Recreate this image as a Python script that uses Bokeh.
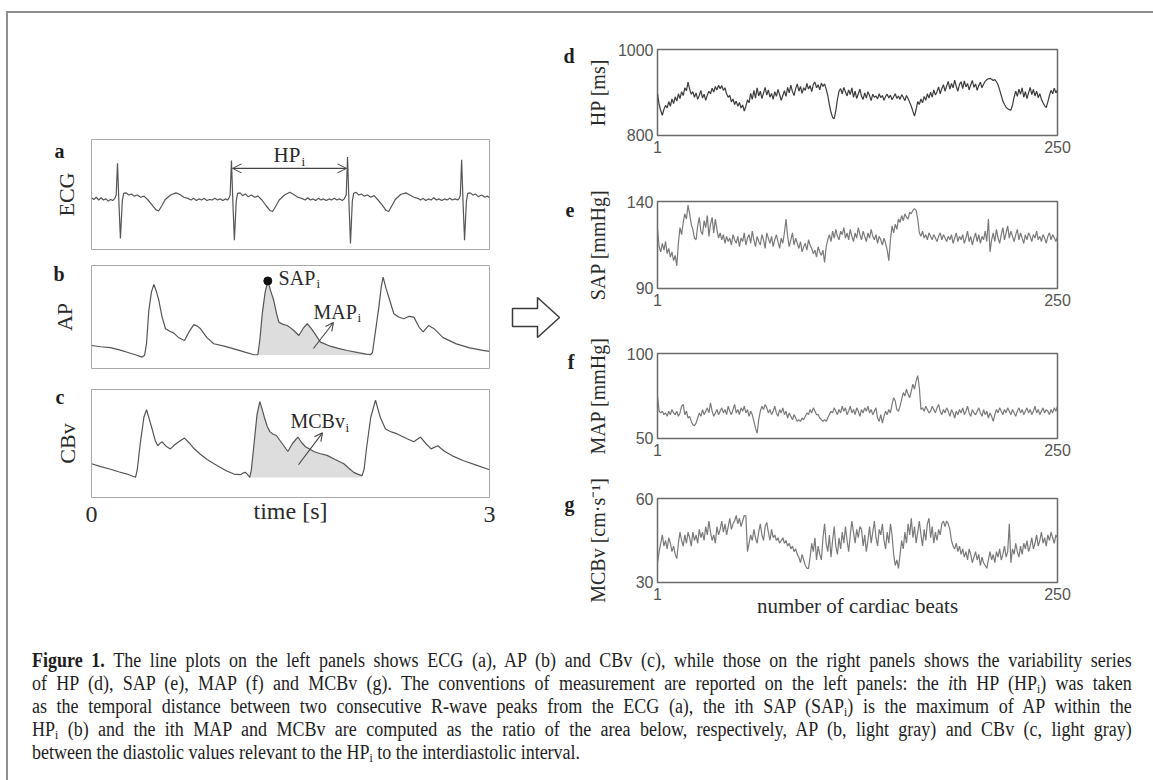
import numpy as np
from math import pi
from bokeh.plotting import figure
from bokeh.models import Range1d, Label, Arrow, OpenHead, FixedTicker, Div, Spacer, LinearAxis
from bokeh.layouts import column, row
from bokeh.embed import file_html
from bokeh.resources import INLINE

SERIF = "Liberation Serif"
SANS = "Liberation Sans"
TXT = "#2a2a2a"

# ---------------- left panels: raw signals (time [s], value) ----------------
ECG = [(0.000, 0.01), (0.018, -0.02), (0.036, 0.02), (0.054, -0.03), (0.072, 0.01), (0.090, -0.03),
       (0.108, -0.01), (0.126, -0.05), (0.144, -0.02), (0.160, -0.04), (0.176, 0.00), (0.186, 0.06),
       (0.196, 0.64), (0.207, -0.10), (0.218, -0.73), (0.232, -0.05), (0.242, 0.09), (0.261, 0.10),
       (0.281, 0.06), (0.301, 0.08), (0.321, 0.04), (0.346, 0.06), (0.371, 0.02), (0.396, 0.04),
       (0.426, -0.03), (0.456, -0.12), (0.486, -0.21), (0.506, -0.23), (0.531, -0.13), (0.556, -0.02),
       (0.596, 0.06), (0.636, 0.10), (0.666, 0.07), (0.696, 0.02), (0.726, 0.00),
       (0.750, -0.03), (0.770, 0.00), (0.790, -0.04), (0.810, -0.01), (0.830, -0.03), (0.850, 0.00),
       (0.870, -0.04), (0.890, -0.02), (0.910, -0.03), (0.930, 0.00), (0.950, -0.03), (0.970, -0.01),
       (0.990, -0.04), (1.010, -0.01), (1.025, -0.03), (1.035, 0.00), (1.045, 0.06),
       (1.055, 0.69), (1.066, -0.10), (1.077, -0.76), (1.091, -0.05), (1.101, 0.09), (1.120, 0.10),
       (1.140, 0.05), (1.160, 0.08), (1.180, 0.03), (1.205, 0.06), (1.230, 0.02), (1.255, 0.04),
       (1.285, -0.03), (1.315, -0.13), (1.345, -0.22), (1.365, -0.24), (1.390, -0.14), (1.415, -0.03),
       (1.455, 0.06), (1.495, 0.11), (1.525, 0.07), (1.555, 0.02), (1.585, 0.00),
       (1.610, -0.03), (1.630, 0.01), (1.650, -0.03), (1.670, -0.01), (1.690, -0.04), (1.710, 0.00),
       (1.730, -0.03), (1.750, -0.01), (1.770, -0.04), (1.790, -0.01), (1.810, -0.03), (1.830, 0.00),
       (1.850, -0.03), (1.870, -0.01), (1.890, -0.04), (1.905, -0.01), (1.920, 0.06),
       (1.930, 0.75), (1.941, -0.10), (1.952, -0.82), (1.966, -0.05), (1.976, 0.09), (1.995, 0.11),
       (2.015, 0.06), (2.035, 0.08), (2.055, 0.04), (2.080, 0.06), (2.105, 0.02), (2.130, 0.05),
       (2.160, -0.03), (2.190, -0.12), (2.220, -0.22), (2.240, -0.24), (2.265, -0.13), (2.290, -0.02),
       (2.330, 0.07), (2.370, 0.10), (2.400, 0.06), (2.430, 0.02), (2.460, 0.00),
       (2.480, -0.03), (2.500, 0.00), (2.520, -0.04), (2.540, -0.01), (2.560, -0.03), (2.580, 0.01),
       (2.600, -0.03), (2.620, -0.01), (2.640, -0.04), (2.660, -0.01), (2.680, -0.03), (2.700, 0.00),
       (2.720, -0.03), (2.740, -0.01), (2.760, -0.03), (2.772, 0.00), (2.780, 0.06),
       (2.790, 0.70), (2.801, -0.10), (2.812, -0.76), (2.826, -0.05), (2.836, 0.09), (2.855, 0.10),
       (2.875, 0.06), (2.895, 0.08), (2.915, 0.03), (2.940, 0.06), (2.965, 0.02), (2.985, 0.04),
       (3.000, 0.01)]

AP = [(0.000, 70.1), (0.070, 69.0), (0.143, 68.3), (0.210, 66.3), (0.269, 64.2), (0.330, 62.0),
      (0.382, 60.0), (0.400, 61.5), (0.415, 72.0), (0.432, 100.7), (0.452, 117.0), (0.470, 123.5),
      (0.490, 117.0), (0.508, 109.4), (0.530, 96.0), (0.558, 84.7), (0.590, 82.5), (0.621, 80.9),
      (0.658, 76.8), (0.701, 74.5), (0.735, 82.0), (0.771, 88.4), (0.800, 86.8), (0.822, 84.7),
      (0.870, 77.0), (0.922, 71.6), (1.000, 69.5), (1.073, 67.2), (1.150, 64.5), (1.224, 62.0),
      (1.254, 62.0), (1.270, 76.0), (1.287, 97.8), (1.308, 116.0), (1.329, 126.5), (1.350, 118.0),
      (1.374, 109.4), (1.395, 98.0), (1.412, 90.5), (1.445, 88.5), (1.475, 87.6), (1.500, 85.5),
      (1.525, 83.2), (1.563, 78.8), (1.595, 85.0), (1.626, 89.1), (1.650, 86.0), (1.676, 81.8),
      (1.726, 73.0), (1.800, 69.5), (1.860, 67.6), (1.927, 65.7), (2.010, 63.8), (2.070, 62.6),
      (2.103, 62.2), (2.118, 64.0), (2.135, 78.0), (2.166, 103.6), (2.185, 122.0), (2.198, 129.8),
      (2.220, 120.0), (2.241, 112.3), (2.279, 97.8), (2.315, 95.0), (2.354, 93.5), (2.390, 95.5),
      (2.430, 94.9), (2.470, 86.0), (2.500, 82.0), (2.540, 87.5), (2.580, 85.0), (2.650, 77.0),
      (2.750, 71.5), (2.850, 68.0), (2.950, 65.8), (3.000, 65.0)]

CBV = [(0.000, 41.9), (0.070, 40.0), (0.143, 38.3), (0.210, 36.5), (0.269, 35.2), (0.310, 33.8),
       (0.332, 33.1), (0.345, 38.0), (0.369, 56.1), (0.395, 72.0), (0.415, 76.9), (0.435, 71.0),
       (0.457, 64.4), (0.480, 57.0), (0.500, 53.5), (0.517, 55.2), (0.533, 56.1), (0.565, 53.0),
       (0.595, 51.5), (0.625, 54.0), (0.658, 56.1), (0.701, 58.5), (0.735, 55.5), (0.771, 51.9),
       (0.820, 48.0), (0.872, 44.6), (0.920, 42.0), (0.972, 39.4), (1.020, 37.2), (1.073, 35.2),
       (1.123, 34.8), (1.145, 36.0), (1.161, 36.3), (1.180, 34.5), (1.193, 33.1), (1.205, 38.0),
       (1.224, 53.9), (1.248, 74.0), (1.269, 82.1), (1.287, 77.0), (1.304, 71.7), (1.325, 66.0),
       (1.344, 62.7), (1.370, 61.0), (1.394, 60.2), (1.437, 55.0), (1.480, 49.8), (1.515, 55.0),
       (1.555, 59.2), (1.585, 55.5), (1.613, 52.9), (1.676, 49.8), (1.720, 48.5), (1.776, 47.3),
       (1.840, 44.5), (1.902, 41.9), (1.940, 39.0), (1.977, 36.3), (2.010, 35.0), (2.040, 34.2),
       (2.055, 38.5), (2.073, 51.9), (2.105, 72.0), (2.141, 83.1), (2.160, 77.0), (2.178, 71.7),
       (2.216, 64.4), (2.260, 62.5), (2.304, 61.2), (2.379, 58.1), (2.429, 56.1), (2.480, 59.2),
       (2.520, 55.0), (2.560, 51.5), (2.610, 53.5), (2.660, 50.0), (2.720, 47.0), (2.800, 44.0),
       (2.900, 41.0), (3.000, 38.0)]

R_PEAKS = [1.055, 1.930]          # consecutive R waves delimiting HP_i
AP_DIASTOLE = [1.254, 2.103]      # diastolic feet of AP within HP_i
CBV_DIASTOLE = [1.193, 2.040]     # diastolic feet of CBv within HP_i
TIME_TICKS = [0, 3]

# ---------------- right panels: beat-to-beat series (250 beats) ----------------
HP = [897, 872, 858, 847, 861, 870, 864, 879, 868, 885,
      874, 890, 880, 897, 886, 902, 893, 911, 904, 924,
      908, 896, 902, 889, 899, 884, 893, 905, 887, 896,
      882, 894, 903, 897, 910, 901, 914, 906, 917, 909,
      916, 905, 911, 897, 889, 893, 878, 885, 872, 880,
      868, 877, 864, 871, 857, 868, 883, 876, 898, 884,
      905, 887, 911, 892, 903, 886, 899, 912, 894, 906,
      889, 898, 884, 902, 891, 907, 895, 882, 893, 904,
      891, 912, 899, 917, 902, 893, 909, 920, 903, 914,
      898, 911, 905, 921, 908, 916, 902, 919, 924, 911,
      918, 906, 922, 914, 920, 908, 893, 872, 854, 842,
      839, 858, 884, 903, 909, 897, 912, 901, 892, 906,
      895, 911, 889, 903, 886, 897, 908, 891, 884, 899,
      887, 902, 893, 881, 896, 889, 892, 885, 897, 888,
      893, 882, 891, 896, 887, 894, 883, 890, 897, 886,
      892, 884, 895, 889, 881, 893, 886, 877, 868, 856,
      845, 861, 879, 872, 885, 876, 891, 882, 897, 887,
      901, 889, 906, 894, 902, 913, 897, 909, 918, 903,
      915, 926, 908, 921, 911, 929, 914, 903, 919, 925,
      909, 927, 913, 921, 906, 918, 928, 912, 920, 905,
      916, 924, 911, 919, 926, 930, 932, 933, 931, 928,
      930, 925, 918, 906, 893, 880, 872, 866, 862, 860,
      859, 871, 889, 903, 891, 908, 896, 911, 889, 902,
      886, 899, 912, 895, 907, 892, 903, 888, 897, 884,
      876, 869, 865, 878, 893, 905, 897, 910, 899, 906]

SAP = [124, 114, 111, 116, 112, 117, 110, 113, 108, 111,
       106, 109, 103, 116, 125, 121, 128, 133, 130, 138,
       133, 127, 124, 119, 118, 126, 131, 123, 121, 129,
       125, 132, 120, 127, 131, 122, 130, 124, 119, 122,
       118, 121, 116, 120, 117, 119, 115, 121, 118, 116,
       120, 114, 119, 117, 122, 115, 119, 121, 116, 123,
       118, 114, 120, 117, 115, 121, 118, 113, 122, 119,
       116, 120, 114, 118, 121, 117, 113, 119, 116, 122,
       130, 120, 114, 118, 122, 115, 119, 116, 113, 117,
       111, 114, 116, 112, 118, 115, 113, 110, 112, 108,
       114, 111, 109, 112, 105, 114, 118, 121, 117, 123,
       119, 124, 120, 118, 123, 121, 125, 119, 122, 118,
       124, 120, 117, 122, 119, 125, 121, 118, 123, 120,
       117, 122, 119, 124, 120, 118, 121, 116, 120, 118,
       115, 119, 116, 112, 106, 118, 126, 122, 127, 124,
       130, 128, 132, 129, 133, 131, 130, 134, 133, 135,
       136, 135, 130, 122, 120, 123, 119, 121, 118, 122,
       120, 118, 121, 119, 117, 120, 122, 118, 121, 119,
       117, 120, 118, 121, 116, 119, 122, 117, 120, 118,
       121, 116, 119, 123, 117, 120, 115, 119, 122, 117,
       121, 116, 120, 118, 123, 117, 130, 111, 118, 122,
       117, 124, 119, 116, 121, 125, 118, 122, 126, 119,
       123, 120, 117, 121, 124, 118, 122, 119, 116, 121,
       118, 122, 120, 117, 121, 119, 123, 118, 120, 117,
       121, 119, 116, 120, 122, 118, 121, 119, 117, 120]

MAP = [75, 66, 65, 66, 64, 65, 63, 66, 64, 67,
       65, 64, 66, 63, 65, 69, 70, 64, 66, 62,
       63, 60, 58, 57.5, 59, 62, 65, 63, 67, 64,
       66, 68, 65, 71, 66, 63, 65, 67, 64, 66,
       68, 65, 67, 64, 69, 66, 64, 67, 70, 65,
       67, 64, 68, 66, 69, 65, 67, 63, 66, 64,
       60, 56, 53, 61, 66, 69, 67, 70, 68, 65,
       67, 64, 66, 69, 65, 63, 67, 65, 68, 64,
       66, 62, 65, 63, 61, 64, 62, 60, 61, 60,
       62, 61, 63, 65, 64, 67, 65, 68, 66, 64,
       64, 62, 61, 60, 61, 60, 62, 64, 66, 65,
       68, 66, 64, 67, 65, 69, 66, 68, 64, 66,
       69, 65, 67, 64, 68, 66, 63, 67, 65, 68,
       66, 69, 65, 67, 64, 66, 68, 62, 60, 64,
       59, 63, 66, 64, 67, 65, 70, 74, 72, 67,
       66, 69, 73, 77, 75, 79, 76, 74, 78, 82,
       79, 84, 87, 80, 67, 68, 66, 69, 67, 65,
       66, 69, 67, 65, 68, 70, 66, 64, 67, 65,
       68, 66, 63, 67, 65, 62, 66, 64, 67, 65,
       68, 64, 66, 69, 65, 63, 67, 65, 64, 66,
       68, 65, 63, 67, 64, 66, 62, 65, 63, 60,
       64, 67, 65, 68, 66, 64, 67, 65, 68, 66,
       64, 67, 65, 63, 66, 68, 65, 67, 64, 66,
       68, 65, 67, 64, 66, 69, 65, 67, 64, 66,
       68, 65, 67, 66, 64, 67, 65, 68, 66, 69]

MCBV = [37, 41, 44, 47, 43, 45, 42, 46, 44, 41,
        43, 40, 38.5, 44, 48, 45, 43, 47, 44, 48,
        46, 43, 48, 45, 47, 44, 49, 46, 48, 45,
        50, 47, 52, 48, 45, 47, 44, 50, 47, 49,
        52, 48, 51, 47, 50, 53, 49, 51, 52, 54,
        51, 53, 50, 52, 54, 53.9, 41, 44, 47, 45,
        49, 46, 44, 48, 51, 47, 45, 50, 51.5, 48,
        45, 49, 46, 47, 45, 46, 44, 45, 46, 44,
        45, 43, 44, 42, 43, 41, 42, 40, 39, 37,
        40, 38, 36, 35, 35, 39, 44, 41, 46, 38,
        43, 40, 38, 46, 51, 44, 41, 47, 39, 45,
        50, 43, 40, 46, 42, 48, 44, 50, 45, 41,
        47, 52, 48, 44, 49, 46, 50, 49, 43, 47,
        41, 45, 50, 44, 48, 52, 46, 43, 49, 47,
        51, 45, 42, 48, 44, 51, 47, 40, 36, 38,
        35, 40, 45, 42, 48, 44, 51, 47, 53, 46,
        50, 44, 48, 52, 47, 43, 49, 45, 51, 53,
        46, 50, 44, 48, 45, 49, 47, 51, 52, 50,
        52, 51, 49, 45, 43, 42, 44, 41, 43, 40,
        42, 39, 41, 38, 42, 40, 37, 39, 41, 38,
        40, 36, 39, 37, 36, 35, 38, 41, 38, 40,
        37, 41, 39, 42, 38, 40, 43, 39, 41, 51,
        37, 42, 40, 44, 41, 39, 43, 40, 44, 42,
        45, 41, 43, 46, 42, 44, 47, 43, 45, 48,
        44, 46, 43, 47, 45, 48, 46, 44, 47, 46]

# (panel letter, letter tick value, y label, values, y limits, line colour)
RIGHT_PANELS = [
    ("d", 986, "HP [ms]", HP, (800, 1000), "#3c3c3c"),
    ("e", 135, "SAP [mmHg]", SAP, (90, 140), "#7a7a7a"),
    ("f", 95, "MAP [mmHg]", MAP, (50, 100), "#7a7a7a"),
    ("g", 58, "MCBv [cm\u00b7s\u207b\u00b9]", MCBV, (30, 60), "#7a7a7a"),
]
BEAT_TICKS = [1, 250]

# hollow arrow between the two halves (page pixels of its own small canvas)
ARROW_X = [512, 537, 537, 559, 537, 537, 512, 512]
ARROW_Y = [308, 308, 297, 317, 337, 326, 326, 308]

CAPTION_LINES = [
    "<b>Figure 1.</b> The line plots on the left panels shows ECG (a), AP (b) and CBv (c), while those on the right panels shows the variability series",
    "of HP (d), SAP (e), MAP (f) and MCBv (g). The conventions of measurement are reported on the left panels: the <i>i</i>th HP (HP<sub>i</sub>) was taken",
    "as the temporal distance between two consecutive R-wave peaks from the ECG (a), the ith SAP (SAP<sub>i</sub>) is the maximum of AP within the",
    "HP<sub>i</sub> (b) and the ith MAP and MCBv are computed as the ratio of the area below, respectively, AP (b, light gray) and CBv (c, light gray)",
    "between the diastolic values relevant to the HP<sub>i</sub> to the interdiastolic interval.",
]


# ---------------- helpers ----------------
def base_fig(w, h, xr, yr, left, right, top, bottom, xaxis=False):
    p = figure(width=w, height=h, x_range=xr, y_range=yr, output_backend="svg",
               toolbar_location=None,
               min_border_left=left, min_border_right=right,
               min_border_top=top, min_border_bottom=bottom,
               x_axis_location="below" if xaxis else None,
               y_axis_location="left")
    p.grid.visible = False
    p.background_fill_color = "white"
    p.border_fill_color = "white"
    return p


def plain_axis(ax):
    ax.axis_line_color = None
    ax.major_tick_line_color = None
    ax.minor_tick_line_color = None
    ax.major_tick_out = 0
    ax.major_tick_in = 0
    ax.minor_tick_out = 0
    ax.minor_tick_in = 0
    ax.axis_label_text_font_style = "normal"


def letter_axis(ax, value, letter, standoff):
    plain_axis(ax)
    ax.ticker = FixedTicker(ticks=[value])
    ax.major_label_overrides = {value: letter}
    ax.major_label_text_font = SERIF
    ax.major_label_text_font_style = "bold"
    ax.major_label_text_font_size = "20px"
    ax.major_label_text_color = "#1e1e1e"
    ax.major_label_standoff = standoff


def lab(p, text, x, y, size, align="left", xo=0, yo=0):
    p.add_layout(Label(x=x, y=y, text=text, text_font=SERIF, text_font_size=f"{size}px",
                       text_align=align, text_baseline="middle", text_color=TXT,
                       x_offset=xo, y_offset=yo))


def sub_lab(p, text, x, y, width_px, size=20):
    lab(p, text, x, y, size)
    lab(p, "i", x, y, int(size * 0.65), xo=width_px + 1, yo=-6)


def split(pairs):
    return [a for a, _ in pairs], [b for _, b in pairs]


ecg_t, ecg_v = split(ECG)
ap_t, ap_v = split(AP)
cbv_t, cbv_v = split(CBV)

LEFT_W = 488
SIG = "#555555"
FRAME_L = "#a9a9a9"


def left_panel(h, top, bottom, yr, letter, letter_val, ylabel, xaxis=False):
    p = base_fig(LEFT_W, h, Range1d(0, 3), Range1d(*yr), 83, 7, top, bottom, xaxis=xaxis)
    p.outline_line_color = FRAME_L
    ax = p.yaxis[0]
    letter_axis(ax, letter_val, letter, 27)
    ax.axis_label = ylabel
    ax.axis_label_text_font = SERIF
    ax.axis_label_text_font_size = "22px"
    ax.axis_label_text_color = TXT
    ax.axis_label_standoff = -27
    return p


# panel a : ECG
pa = left_panel(132, 14, 8, (-0.93, 1.07), "a", 0.87, "ECG")
pa.line(ecg_t, ecg_v, line_color=SIG, line_width=1.2)
pa.add_layout(Arrow(start=OpenHead(size=9, line_color="#444", line_width=1.1),
                    end=OpenHead(size=9, line_color="#444", line_width=1.1),
                    x_start=R_PEAKS[0] + 0.008, x_end=R_PEAKS[1] - 0.008,
                    y_start=0.545, y_end=0.545, line_color="#444", line_width=1.1))
sub_lab(pa, "HP", 1.372, 0.78, 27, size=21)

# panel b : AP
pb = left_panel(120, 8, 9, (50, 140), "b", 133, "AP")
sh_t = [t for t in ap_t if AP_DIASTOLE[0] <= t <= AP_DIASTOLE[1]]
sh_v = [v for t, v in AP if AP_DIASTOLE[0] <= t <= AP_DIASTOLE[1]]
pb.varea(x=sh_t, y1=min(sh_v[0], sh_v[-1]) - 0.2, y2=sh_v, fill_color="#dddddd")
pb.line(ap_t, ap_v, line_color=SIG, line_width=1.2)
hp_seg = [(t, v) for t, v in AP if R_PEAKS[0] <= t <= R_PEAKS[1]]
sap_t, sap_v = max(hp_seg, key=lambda q: q[1])
pb.scatter([sap_t], [sap_v], size=8, color="#111111")
sub_lab(pb, "SAP", 1.41, 129.5, 37)
sub_lab(pb, "MAP", 1.673, 99.8, 43)
pb.add_layout(Arrow(end=OpenHead(size=8, line_color="#444", line_width=1.1),
                    x_start=1.673, y_start=67.5, x_end=1.824, y_end=90.2,
                    line_color="#444", line_width=1.1))

# panel c : CBv
pc = left_panel(163, 12, 43, (20, 90), "c", 85, "CBv", xaxis=True)
sc_t = [t for t in cbv_t if CBV_DIASTOLE[0] <= t <= CBV_DIASTOLE[1]]
sc_v = [v for t, v in CBV if CBV_DIASTOLE[0] <= t <= CBV_DIASTOLE[1]]
pc.varea(x=sc_t, y1=min(sc_v[0], sc_v[-1]) - 0.2, y2=sc_v, fill_color="#dddddd")
pc.line(cbv_t, cbv_v, line_color=SIG, line_width=1.2)
sub_lab(pc, "MCBv", 1.50, 69.4, 54)
pc.add_layout(Arrow(end=OpenHead(size=8, line_color="#444", line_width=1.1),
                    x_start=1.56, y_start=41.2, x_end=1.741, y_end=61.9,
                    line_color="#444", line_width=1.1))
xa = pc.xaxis[0]
plain_axis(xa)
xa.ticker = FixedTicker(ticks=TIME_TICKS)
xa.major_label_text_font = SERIF
xa.major_label_text_font_size = "24px"
xa.major_label_text_color = TXT
xa.major_label_standoff = 9
xa.axis_label = "time [s]"
xa.axis_label_text_font = SERIF
xa.axis_label_text_font_size = "24px"
xa.axis_label_text_color = TXT
xa.axis_label_standoff = -27

left_col = column(Spacer(width=LEFT_W, height=112), pa, pb, pc,
                  Spacer(width=LEFT_W, height=100))

# arrow canvas
pz = figure(width=64, height=627, x_range=Range1d(496, 560), y_range=Range1d(640, 13),
            output_backend="svg", toolbar_location=None, x_axis_location=None,
            y_axis_location=None, min_border=0)
pz.grid.visible = False
pz.outline_line_color = None
pz.patch(ARROW_X, ARROW_Y, fill_color="white", line_color="#3a3a3a", line_width=1.5)

# right panels
RIGHT_W = 593
heights = [(152, 36, 30), (150, 36, 27), (150, 38, 27), (175, 33, 58)]
DIGIT_W = 8.9
right_figs = []
for (letter, lval, ylabel, vals, (lo, hi), col), (h, top, bot) in zip(RIGHT_PANELS, heights):
    p = base_fig(RIGHT_W, h, Range1d(0.99, 250.01), Range1d(lo - 0.1, hi + 0.1),
                 97, 96, top, bot, xaxis=True)
    p.outline_line_color = "#6a6a6a"
    p.outline_line_width = 1.5
    p.xaxis.ticker = FixedTicker(ticks=BEAT_TICKS)
    p.yaxis.ticker = FixedTicker(ticks=[lo, hi])
    for ax in list(p.xaxis) + list(p.yaxis):
        plain_axis(ax)
        ax.major_label_text_font = SANS
        ax.major_label_text_font_size = "16px"
        ax.major_label_text_color = "#555555"
    p.xaxis.major_label_standoff = 5
    ya = p.yaxis[0]
    ya.major_label_standoff = 4
    ya.axis_label = ylabel
    ya.axis_label_text_font = SERIF
    ya.axis_label_text_font_size = "20px"
    ya.axis_label_text_color = TXT
    widest = max(len(str(lo)), len(str(hi))) * DIGIT_W
    ya.axis_label_standoff = int(round(41.5 - widest))
    la = LinearAxis()
    letter_axis(la, lval, letter, 9)
    p.add_layout(la, "left")
    x = np.arange(1, len(vals) + 1)
    p.line(x, vals, line_color=col, line_width=1.2)
    right_figs.append(p)

gx = right_figs[-1].xaxis[0]
gx.axis_label = "number of cardiac beats"
gx.axis_label_text_font = SERIF
gx.axis_label_text_font_size = "21px"
gx.axis_label_text_color = TXT
gx.axis_label_standoff = -9
right_col = column(*right_figs)

plots = row(left_col, pz, right_col)

sub_style = '<sub style="font-size:0.65em; line-height:0; vertical-align:-0.25em">'
parts = []
for k, line in enumerate(CAPTION_LINES):
    line = line.replace("<sub>", sub_style)
    last = "justify" if k < len(CAPTION_LINES) - 1 else "left"
    parts.append(f'<div style="text-align:justify; text-align-last:{last}; height:23px; white-space:nowrap;">{line}</div>')
cap_html = ('<div style="padding:9px 0 0 24px; margin:0;">'
            '<div style="width:1222px; transform:scaleX(0.9); transform-origin:0 0; '
            f'font-family:\'{SERIF}\', serif; font-size:20px; line-height:23px; color:#1e1e1e;">'
            + "".join(parts) + '</div></div>')
caption = Div(text=cap_html, width=1145, height=140, margin=0, styles={"overflow": "hidden"})

content = column(plots, caption)

GRAY = "#8f8f8f"
top_line = Spacer(width=1147, height=2, styles={"background-color": GRAY})
left_line = Spacer(width=2, height=767, styles={"background-color": GRAY})

root = column(Spacer(width=1153, height=11),
              row(Spacer(width=6, height=2), top_line),
              row(Spacer(width=6, height=767), left_line, content))

open("out.html", "w").write(file_html(root, INLINE))
